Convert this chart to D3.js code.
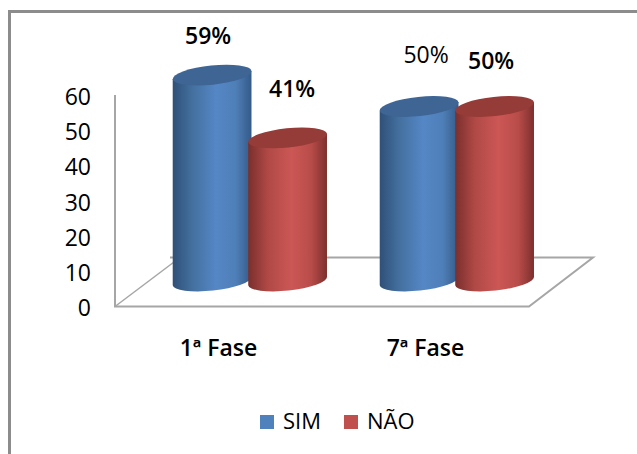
<!DOCTYPE html>
<html>
<head>
<meta charset="utf-8">
<script src="https://cdn.jsdelivr.net/npm/d3@7"></script>
<style>
html,body{margin:0;padding:0;background:#fff}
svg{display:block}
text{font-family:"Open Sans","Noto Sans",sans-serif;fill:#000}
</style>
</head>
<body>
<script>
// Share of answers per course phase
const categories = ["1ª Fase", "7ª Fase"];
const seriesNames = ["SIM", "NÃO"];
const simValues = [59, 50];
const naoValues = [41, 50];
const axisTicks = [0, 10, 20, 30, 40, 50, 60];

const W = 637, H = 454;
const svg = d3.select("body").append("svg").attr("width", W).attr("height", H);

// Colour stops across each cylinder, edge to edge
const palette = {
  "SIM": {legend: "#4f81bd", top: "#3e6593", stops: ["#2f5078", "#44709f", "#5587c6", "#4f7fb8", "#345a88"]},
  "NÃO": {legend: "#c0504d", top: "#953b38", stops: ["#7a2f2d", "#b04946", "#cc5755", "#b84c49", "#7c302e"]}
};

const defs = svg.append("defs");
seriesNames.forEach((name, i) => {
  const g = defs.append("linearGradient").attr("id", "cyl" + i);
  palette[name].stops.forEach((c, j) => {
    g.append("stop").attr("offset", [0, 0.25, 0.55, 0.8, 1][j]).attr("stop-color", c);
  });
});

// Chart frame: only the top and left edges show
svg.append("path")
  .attr("d", `M9.5,${H} V11.5 H${W}`)
  .attr("fill", "none").attr("stroke", "#8c8c8c").attr("stroke-width", 3);

// Scales: the wall axis is taller than the bars because of the 3D floor offset
const axisY = d3.scaleLinear().domain([0, 60]).range([308.5, 97]);
const barY = d3.scaleLinear().domain([0, 60]).range([281, 71.6]);
const groupX = d3.scaleBand().domain(categories).range([172.5, 586.5]).paddingInner(0).paddingOuter(0).align(0);
const seriesX = d3.scalePoint().domain(seriesNames).range([0, 75.5]);

// Floor of the 3D plot and the vertical wall line
const wall = svg.append("g").attr("fill", "none").attr("stroke", "#a6a6a6").attr("stroke-width", 2);
wall.append("path").attr("d", `M115,95 V306.5 H529 L593,257.5 H170`);
wall.append("path").attr("d", `M115,306.5 L180,257.5`).attr("stroke-width", 1.5);

// Value axis
const yAxis = svg.append("g").attr("transform", "translate(91,0)")
  .call(d3.axisLeft(axisY).tickValues(axisTicks).tickSize(0).tickPadding(0));
yAxis.select(".domain").remove();
yAxis.selectAll("text").attr("font-size", 23).style("font-family", '"Open Sans",sans-serif');

// Cylinders, drawn left to right so each one overlaps its left neighbour
const rx = 39.6, ry = 9.6, tilt = -6;
const tipX = rx * Math.cos(tilt * Math.PI / 180), tipY = rx * Math.sin(tilt * Math.PI / 180);
const seriesValues = [simValues, naoValues];
const bars = [];
categories.forEach((cat, c) => seriesNames.forEach((name, s) => {
  bars.push({cat, name, s, value: seriesValues[s][c]});
}));

const cyl = svg.append("g").selectAll("g").data(bars).join("g")
  .attr("transform", d => `translate(${groupX(d.cat) + seriesX(d.name) + rx},0)`);
cyl.append("path")
  .attr("fill", d => `url(#cyl${d.s})`)
  .attr("d", d => {
    const t = barY(d.value), b = barY(0);
    return `M${-tipX},${t - tipY} L${-tipX},${b - tipY} ` +
      `A${rx},${ry} ${tilt} 0 0 ${tipX},${b + tipY} L${tipX},${t + tipY} Z`;
  });
cyl.append("ellipse")
  .attr("rx", rx).attr("ry", ry)
  .attr("transform", d => `translate(0,${barY(d.value)}) rotate(${tilt})`)
  .attr("fill", d => palette[d.name].top);

// Percent labels, each nudged from the top of its cylinder
const nudges = [[-4, -31], [4.5, -41], [7, -44], [-3.5, -38]];
svg.append("g").selectAll("text").data(bars).join("text")
  .attr("text-anchor", "middle")
  .attr("font-size", 23)
  .attr("font-weight", (d, i) => i === 2 ? 400 : 600)
  .attr("x", (d, i) => groupX(d.cat) + seriesX(d.name) + rx + nudges[i][0])
  .attr("y", (d, i) => barY(d.value) + nudges[i][1])
  .text(d => d.value + "%");

// Category labels under the floor
svg.append("g").selectAll("text").data(categories).join("text")
  .attr("text-anchor", "middle").attr("font-size", 23).attr("font-weight", 600)
  .attr("x", d => groupX(d) + 46)
  .attr("y", 356)
  .text(d => d);

// Legend
const legend = svg.append("g").selectAll("g").data(seriesNames).join("g")
  .attr("transform", (d, i) => `translate(${260 + i * 84},415)`);
legend.append("rect").attr("width", 14).attr("height", 14).attr("fill", d => palette[d].legend);
legend.append("text").attr("x", 23).attr("y", 14).attr("font-size", 22).text(d => d);
</script>
</body>
</html>
